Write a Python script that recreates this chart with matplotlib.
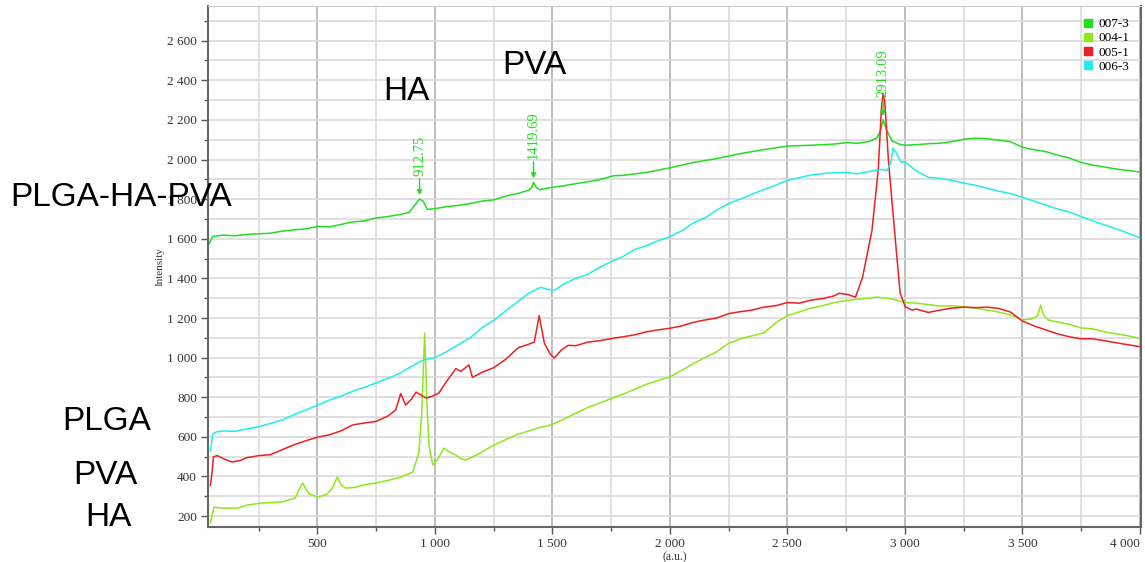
import matplotlib
matplotlib.use("Agg")
import matplotlib.pyplot as plt
from matplotlib.lines import Line2D
from matplotlib.ticker import MultipleLocator, FuncFormatter

# spectra as (x, intensity) pairs
s007_3 = [(40, 1575), (55, 1612), (100, 1618), (150, 1615), (200, 1622), (250, 1625), (300, 1628),
          (350, 1638), (400, 1645), (450, 1650), (500, 1662), (550, 1660), (600, 1672), (650, 1685),
          (700, 1690), (750, 1705), (800, 1712), (850, 1722), (890, 1732), (915, 1770), (935, 1800),
          (950, 1790), (968, 1748), (1000, 1752), (1050, 1762), (1100, 1768), (1150, 1778), (1200, 1790),
          (1250, 1796), (1300, 1815), (1350, 1828), (1400, 1845), (1412, 1858), (1420, 1885), (1430, 1862),
          (1445, 1848), (1500, 1860), (1550, 1868), (1600, 1878), (1650, 1888), (1700, 1898), (1760, 1918),
          (1800, 1920), (1900, 1935), (2000, 1958), (2100, 1985), (2200, 2005), (2300, 2030), (2400, 2050),
          (2500, 2068), (2600, 2072), (2700, 2078), (2750, 2085), (2800, 2082), (2850, 2092), (2880, 2108),
          (2895, 2140), (2908, 2200), (2922, 2150), (2945, 2095), (2975, 2078), (3000, 2072), (3050, 2075),
          (3100, 2080), (3150, 2082), (3200, 2090), (3250, 2102), (3300, 2108), (3350, 2105), (3400, 2098),
          (3450, 2090), (3500, 2062), (3550, 2050), (3600, 2040), (3650, 2022), (3700, 2008), (3750, 1985),
          (3800, 1972), (3850, 1962), (3900, 1952), (3950, 1945), (4000, 1937)]

s004_1 = [(45, 165), (52, 200), (60, 245), (100, 240), (158, 240), (200, 255), (256, 265), (300, 268),
          (350, 272), (406, 291), (425, 340), (438, 367), (450, 340), (465, 312), (504, 296), (540, 310),
          (564, 341), (585, 397), (600, 360), (620, 341), (660, 345), (700, 358), (748, 367), (800, 380),
          (850, 395), (906, 422), (932, 518), (944, 720), (957, 1124), (966, 780), (975, 560), (991, 458),
          (1015, 490), (1038, 543), (1060, 525), (1090, 508), (1110, 490), (1132, 483), (1180, 510),
          (1252, 559), (1300, 585), (1350, 612), (1400, 630), (1450, 648), (1494, 660), (1550, 690),
          (1600, 720), (1650, 748), (1700, 770), (1765, 800), (1800, 815), (1850, 840), (1900, 865),
          (1950, 885), (2000, 902), (2050, 935), (2100, 970), (2150, 1000), (2200, 1030), (2250, 1072),
          (2300, 1095), (2350, 1110), (2400, 1125), (2450, 1175), (2500, 1212), (2550, 1230), (2600, 1250),
          (2650, 1262), (2700, 1278), (2750, 1288), (2800, 1295), (2850, 1300), (2880, 1306), (2950, 1295),
          (3000, 1278), (3050, 1275), (3100, 1268), (3150, 1260), (3200, 1262), (3255, 1256), (3300, 1250),
          (3350, 1240), (3400, 1230), (3450, 1215), (3500, 1190), (3540, 1195), (3565, 1210), (3578, 1265),
          (3590, 1215), (3610, 1190), (3650, 1180), (3700, 1168), (3750, 1150), (3800, 1145), (3850, 1130),
          (3900, 1120), (3950, 1110), (4000, 1098)]

s005_1 = [(45, 355), (52, 420), (58, 500), (75, 505), (100, 490), (137, 473), (170, 480), (200, 495),
          (250, 505), (300, 510), (350, 535), (400, 560), (450, 580), (500, 598), (550, 610), (600, 630),
          (650, 660), (700, 670), (750, 678), (800, 705), (833, 735), (855, 818), (876, 760), (900, 790),
          (920, 826), (940, 812), (962, 796), (990, 805), (1017, 821), (1050, 880), (1090, 945), (1110, 930),
          (1145, 963), (1160, 900), (1200, 925), (1252, 950), (1300, 990), (1355, 1050), (1400, 1068),
          (1423, 1078), (1444, 1212), (1466, 1074), (1490, 1020), (1508, 998), (1540, 1040), (1568, 1062),
          (1600, 1060), (1650, 1078), (1700, 1085), (1760, 1098), (1800, 1105), (1850, 1115), (1900, 1130),
          (1950, 1140), (2000, 1148), (2050, 1160), (2100, 1178), (2150, 1190), (2200, 1200), (2250, 1222),
          (2300, 1232), (2350, 1240), (2400, 1255), (2450, 1262), (2500, 1278), (2550, 1275), (2600, 1290),
          (2650, 1298), (2700, 1312), (2720, 1325), (2760, 1318), (2790, 1305), (2820, 1405), (2860, 1640),
          (2887, 1950), (2900, 2250), (2907, 2335), (2915, 2290), (2930, 2000), (2946, 1780), (2963, 1550),
          (2980, 1326), (3002, 1256), (3030, 1240), (3050, 1245), (3100, 1228), (3150, 1240), (3200, 1250),
          (3255, 1255), (3300, 1252), (3350, 1255), (3400, 1248), (3450, 1230), (3500, 1185), (3550, 1160),
          (3600, 1140), (3650, 1120), (3700, 1105), (3750, 1095), (3800, 1095), (3850, 1085), (3900, 1075),
          (3950, 1065), (4000, 1055)]

s006_3 = [(45, 530), (55, 615), (70, 625), (100, 630), (150, 628), (200, 640), (250, 650), (300, 668),
          (350, 685), (400, 712), (450, 735), (500, 760), (550, 785), (600, 805), (650, 830), (700, 850),
          (750, 872), (800, 895), (850, 920), (900, 955), (950, 988), (1000, 1000), (1050, 1030), (1100, 1065),
          (1150, 1100), (1200, 1150), (1250, 1188), (1300, 1235), (1350, 1280), (1400, 1325), (1450, 1355),
          (1480, 1345), (1510, 1340), (1550, 1372), (1600, 1400), (1650, 1420), (1700, 1455), (1760, 1490),
          (1800, 1510), (1850, 1545), (1900, 1565), (1950, 1590), (2000, 1610), (2050, 1640), (2100, 1680),
          (2150, 1705), (2200, 1745), (2250, 1778), (2300, 1800), (2370, 1835), (2450, 1870), (2500, 1895),
          (2550, 1908), (2600, 1922), (2680, 1932), (2750, 1935), (2800, 1928), (2850, 1940), (2900, 1950),
          (2925, 1945), (2940, 1985), (2950, 2058), (2965, 2030), (2985, 1985), (3000, 1990), (3040, 1950),
          (3100, 1910), (3150, 1905), (3200, 1895), (3255, 1880), (3300, 1870), (3350, 1855), (3400, 1840),
          (3450, 1828), (3500, 1810), (3550, 1790), (3600, 1770), (3650, 1750), (3700, 1735), (3750, 1712),
          (3800, 1690), (3850, 1670), (3900, 1650), (3950, 1628), (4000, 1605)]

series_names = ["007-3", "004-1", "005-1", "006-3"]
series_colors = ["#22dd22", "#8ee81c", "#ee2020", "#20eeee"]

# peak labels on 007-3: (label, x, y)
peaks = [("912.75", 935, 1800), ("1419.69", 1420, 1885), ("2913.09", 2908, 2200)]

x_ticks = [500, 1000, 1500, 2000, 2500, 3000, 3500, 4000]

serif = "Liberation Serif"
sans = "Liberation Sans"

fig = plt.figure(figsize=(11.45, 5.62), dpi=100)
ax = fig.add_axes([0.1817, 0.0623, 0.8148, 0.927])

for pts, name, col in zip([s007_3, s004_1, s005_1, s006_3], series_names, series_colors):
    xs = [p[0] for p in pts]
    ys = [p[1] for p in pts]
    ax.plot(xs, ys, color=col, lw=1.1, label=name)

for lab, px, py in peaks:
    ax.annotate(lab, xy=(px, py + 20), xytext=(0, 14), textcoords="offset points",
                rotation=90, ha="center", va="bottom", color="#22dd22",
                fontsize=10.5, family=serif,
                arrowprops=dict(arrowstyle="-|>", color="#22dd22", lw=1, mutation_scale=7,
                                shrinkA=0, shrinkB=0))

ax.set_xlim(35, 4005)
ax.set_ylim(145, 2775)
ax.set_xticks(x_ticks)
ax.xaxis.set_minor_locator(MultipleLocator(250))
ax.yaxis.set_major_locator(MultipleLocator(200))
ax.yaxis.set_minor_locator(MultipleLocator(100))
fmt = FuncFormatter(lambda v, p: f"{int(v):,}".replace(",", " "))
ax.xaxis.set_major_formatter(fmt)
ax.yaxis.set_major_formatter(fmt)

ax.grid(True, which="major", axis="x", color="#b8b8b8", lw=1.3)
ax.grid(True, which="minor", axis="x", color="#dedede", lw=1.3)
ax.grid(True, which="both", axis="y", color="#dadada", lw=1.2)
ax.set_axisbelow(True)

ax.tick_params(which="major", length=5, width=1, color="#555555", labelsize=9.5, pad=3)
ax.tick_params(which="minor", length=3, width=1, color="#555555")
for lbl in ax.get_xticklabels() + ax.get_yticklabels():
    lbl.set_family(serif)
    lbl.set_color("#333333")
# last x label sits left of its tick so it stays inside the picture
ax.get_xticklabels()[-1].set_horizontalalignment("right")

for side in ["left", "bottom", "right"]:
    ax.spines[side].set_color("#666666")
    ax.spines[side].set_linewidth(1.5)
ax.spines["top"].set_color("#cccccc")

ax.set_xlabel("(a.u.)", family=serif, fontsize=8.5, color="#333333", labelpad=1)
ax.set_ylabel("Intensity", family=serif, fontsize=8, color="#333333", labelpad=2)

handles = [Line2D([], [], marker="s", ls="none", color=c, markersize=6) for c in series_colors]
ax.legend(handles, series_names, loc="upper right", frameon=False, prop={"family": serif, "size": 9.5},
          handletextpad=0.3, labelspacing=0.15, borderaxespad=0.5, handlelength=1.0)

# sample labels drawn on top of the chart
big = [("PLGA-HA-PVA", 10, 197), ("HA", 383, 92), ("PVA", 502, 65),
       ("PLGA", 62, 422), ("PVA", 73, 475), ("HA", 85, 518)]
for t, px, py in big:
    fig.text(px / 1145, 1 - py / 562, t, family=sans, fontsize=24, ha="left", va="center", color="black")

fig.savefig("out.png", dpi=100)
